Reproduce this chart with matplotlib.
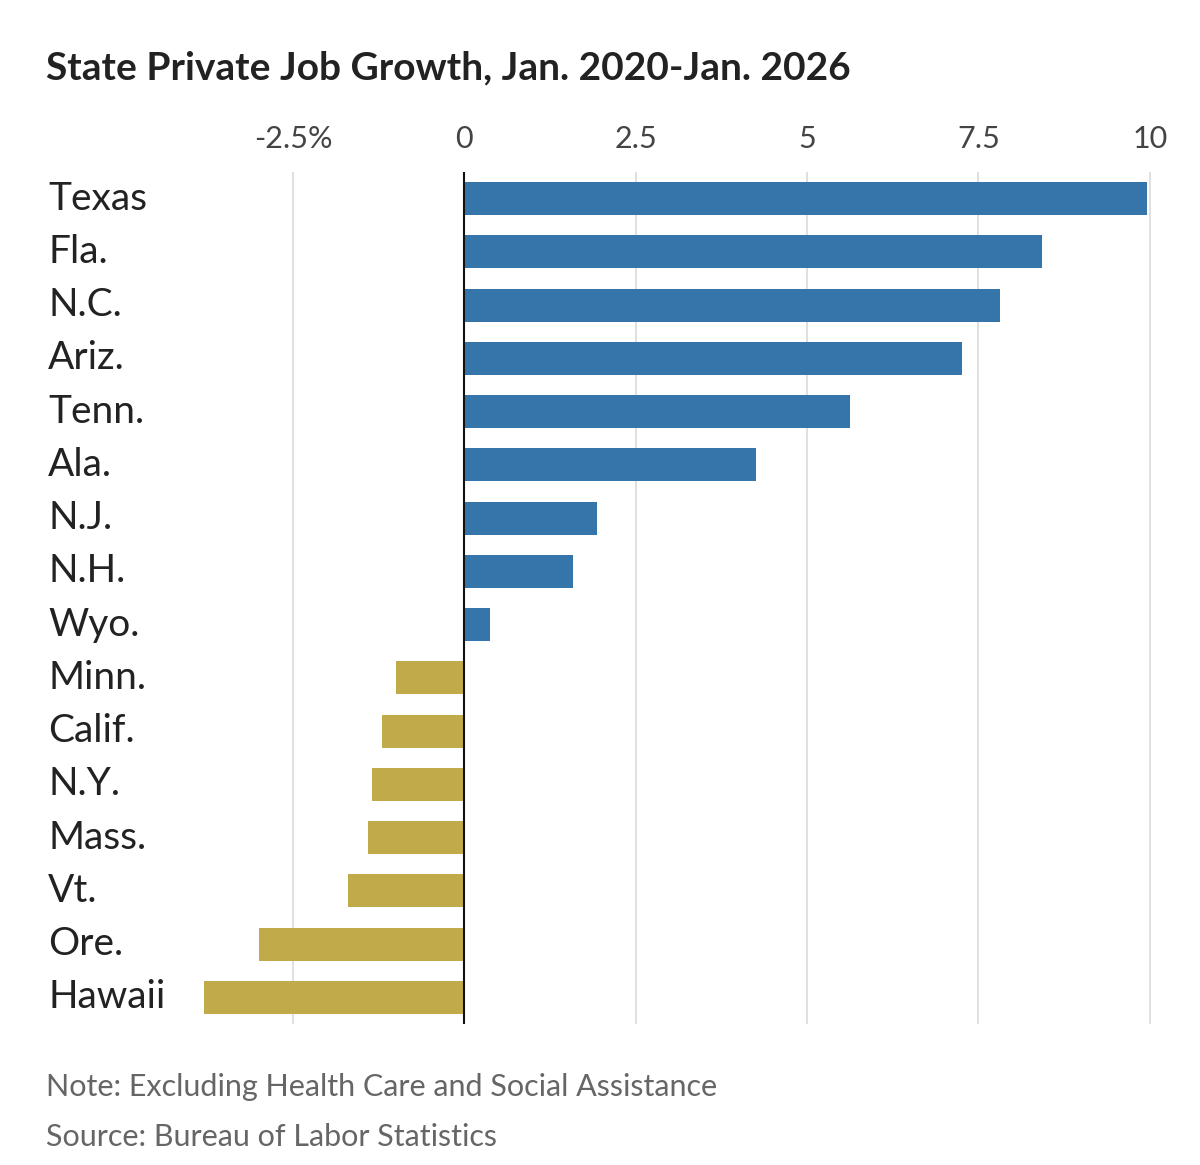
import matplotlib.pyplot as plt
import matplotlib.transforms as mtransforms

states = ["Texas", "Fla.", "N.C.", "Ariz.", "Tenn.", "Ala.", "N.J.", "N.H.", "Wyo.",
          "Minn.", "Calif.", "N.Y.", "Mass.", "Vt.", "Ore.", "Hawaii"]
growth = [9.96, 8.43, 7.82, 7.26, 5.63, 4.25, 1.94, 1.58, 0.38,
          -1.0, -1.2, -1.34, -1.41, -1.70, -2.99, -3.80]
ticks = [-2.5, 0, 2.5, 5, 7.5, 10]
tick_labels = ["-2.5%", "0", "2.5", "5", "7.5", "10"]

blue = "#3575aa"
gold = "#c0aa4a"

plt.rcParams["font.family"] = ["Lato", "DejaVu Sans"]
fig = plt.figure(figsize=(12, 11.65), dpi=100)
ax = fig.add_axes([197 / 1200, 1 - 1024 / 1165, (1160 - 197) / 1200, (1024 - 172) / 1165])

y = list(range(len(states)))
colors = [blue if v >= 0 else gold for v in growth]
ax.barh(y, growth, height=0.62, color=colors, zorder=3)
ax.set_ylim(len(states) - 0.5, -0.5)
ax.set_xlim(-3.9, 10.15)

for t in ticks:
    ax.axvline(t, color="#dddddd", lw=1.3, zorder=1)
ax.axvline(0, color="#111111", lw=1.5, zorder=4)

ax.xaxis.tick_top()
ax.set_xticks(ticks)
ax.set_xticklabels(tick_labels, fontsize=22, color="#444444")
ax.tick_params(axis="x", length=0, pad=14)
ax.set_yticks([])
for s in ax.spines.values():
    s.set_visible(False)

trans = mtransforms.blended_transform_factory(fig.transFigure, ax.transData)
for i, name in enumerate(states):
    ax.text(48 / 1200, i, name, transform=trans, fontsize=28, color="#222222",
            va="center", ha="left")

fig.text(46 / 1200, 1 - 68 / 1165, "State Private Job Growth, Jan. 2020-Jan. 2026",
         fontsize=28, fontweight="bold", color="#222222", va="center")
fig.text(46 / 1200, 1 - 1087 / 1165, "Note: Excluding Health Care and Social Assistance",
         fontsize=22, color="#666666", va="center")
fig.text(46 / 1200, 1 - 1137 / 1165, "Source: Bureau of Labor Statistics",
         fontsize=22, color="#666666", va="center")

fig.savefig("out.png", dpi=100)
